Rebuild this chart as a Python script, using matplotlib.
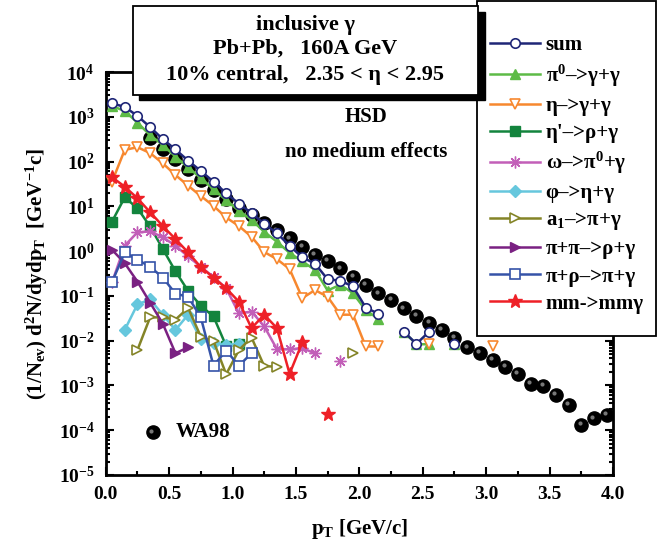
import numpy as np
import matplotlib
matplotlib.use("Agg")
import matplotlib.pyplot as plt
from matplotlib.patches import Rectangle
from matplotlib.transforms import offset_copy
from matplotlib.ticker import FixedLocator, LogLocator, FuncFormatter, NullFormatter

plt.rcParams['font.family'] = ['Liberation Serif', 'DejaVu Serif']
plt.rcParams['font.weight'] = 'bold'
plt.rcParams['axes.labelweight'] = 'bold'
plt.rcParams['mathtext.fontset'] = 'custom'
plt.rcParams['mathtext.rm'] = 'Liberation Serif:bold'
plt.rcParams['mathtext.it'] = 'Liberation Serif:bold'
plt.rcParams['mathtext.bf'] = 'Liberation Serif:bold'
plt.rcParams['mathtext.default'] = 'rm'

nan = np.nan

# HSD model, values as log10 of d2N/dydpT
pt_sum = [0.05, 0.15, 0.25, 0.35, 0.45, 0.55, 0.65, 0.75, 0.85, 0.95, 1.05, 1.15, 1.25, 1.35,
          1.45, 1.55, 1.65, 1.75, 1.85, 1.95, 2.05, 2.15, 2.25, 2.35, 2.45, 2.55, 2.65, 2.75]
log_sum = [3.30, 3.22, 3.02, 2.77, 2.50, 2.27, 2.02, 1.79, 1.55, 1.29, 1.06, 0.85, 0.61, 0.40,
           0.12, -0.14, -0.28, -0.63, -0.66, -0.79, -1.26, -1.40, nan, -1.80, -2.07, -1.80, nan, -2.07]
log_pi0 = [3.24, 3.13, 2.87, 2.59, 2.37, 2.11, 1.87, 1.63, 1.38, 1.14, 0.90, 0.70, 0.43, 0.21,
           -0.04, -0.23, -0.42, -0.88, -0.75, -0.94, -1.32, -1.51, nan, -1.80, -2.08, -2.08, nan, -2.08]

pt_eta = [0.05, 0.15, 0.25, 0.35, 0.45, 0.55, 0.65, 0.75, 0.85, 0.95, 1.05, 1.15, 1.25, 1.35, 1.45,
          1.55, 1.65, 1.75, 1.85, 1.95, 2.05, 2.15, 2.25, 2.35, 2.45, 2.55, 2.65, 2.75, 2.85, 2.95, 3.05]
log_eta = [1.55, 2.26, 2.32, 2.19, 1.96, 1.70, 1.46, 1.23, 1.01, 0.75, 0.56, 0.32, -0.02, -0.18, -0.40,
           -1.05, -0.87, -1.02, -1.42, -1.42, -2.13, -2.13, nan, nan, nan, -2.08, nan, nan, nan, nan, -2.13]

pt_etap = [0.05, 0.15, 0.25, 0.35, 0.45, 0.55, 0.65, 0.75, 0.85, 0.95, 1.05]
log_etap = [0.66, 1.20, 0.96, 0.55, 0.05, -0.45, -0.89, -1.22, -1.46, -2.12, -2.08]

pt_omega = [0.05, 0.15, 0.25, 0.35, 0.45, 0.55, 0.65, 0.75, 0.85, 0.95, 1.05, 1.15, 1.25, 1.35,
            1.45, 1.55, 1.65, 1.75, 1.85]
log_omega = [-0.70, 0.12, 0.42, 0.44, 0.31, 0.12, -0.12, -0.35, -0.58, -0.83, -1.39, -1.35, -1.68, -2.19,
             -2.19, -2.17, -2.28, nan, -2.46]

pt_phi = [0.15, 0.25, 0.35, 0.45, 0.55, 0.65, 0.75, 0.85, 0.95, 1.05]
log_phi = [-1.76, -1.19, -1.08, -1.42, -1.76, -1.42, -1.97, -2.06, -2.10, -2.07]

pt_a1 = [0.25, 0.35, 0.45, 0.55, 0.65, 0.75, 0.85, 0.95, 1.05, 1.15, 1.25, 1.35,
         1.45, 1.55, 1.65, 1.75, 1.85, 1.95]
log_a1 = [-2.21, -1.48, -1.48, -1.53, -1.27, -1.91, -2.01, -2.75, -2.21, -1.93, -2.57, -2.58,
          nan, nan, nan, nan, nan, -2.28]

pt_pipi = [0.05, 0.15, 0.25, 0.35, 0.45, 0.55, 0.65]
log_pipi = [0.03, -0.27, -0.68, -1.15, -1.62, -2.28, -2.15]

pt_pirho = [0.05, 0.15, 0.25, 0.35, 0.45, 0.55, 0.65, 0.75, 0.85, 0.95, 1.05, 1.15]
log_pirho = [-0.69, -0.03, -0.19, -0.35, -0.59, -0.95, -1.02, -1.48, -2.56, -2.22, -2.56, -2.28]

pt_mm = [0.05, 0.15, 0.25, 0.35, 0.45, 0.55, 0.65, 0.75, 0.85, 0.95, 1.05, 1.15, 1.25, 1.35,
         1.45, 1.55, 1.65, 1.75]
log_mm = [1.65, 1.44, 1.18, 0.87, 0.56, 0.27, -0.03, -0.36, -0.59, -0.83, -1.13, -1.72, -1.42, -1.72,
          -2.74, -2.04, nan, -3.64]

# WA98 data
pt_wa98 = [0.35, 0.45, 0.55, 0.65, 0.75, 0.85, 0.95, 1.05, 1.15, 1.25, 1.35, 1.45, 1.55, 1.65,
           1.75, 1.85, 1.95, 2.05, 2.15, 2.25, 2.35, 2.45, 2.55, 2.65, 2.75, 2.85, 2.95, 3.05,
           3.15, 3.25, 3.35, 3.45, 3.55, 3.65, 3.75, 3.85, 3.95]
log_wa98 = [2.52, 2.28, 2.05, 1.83, 1.59, 1.37, 1.16, 0.97, 0.80, 0.62, 0.47, 0.29, 0.10, -0.08,
            -0.22, -0.38, -0.57, -0.75, -0.94, -1.09, -1.28, -1.44, -1.60, -1.76, -1.93, -2.15, -2.27, -2.43,
            -2.58, -2.74, -2.96, -3.01, -3.21, -3.43, -3.88, -3.73, -3.66]

W, H = 668, 542
fig = plt.figure(figsize=(6.68, 5.42), dpi=100)
ax = fig.add_axes([105.7/W, 1-475/H, (613-105.7)/W, (475-72)/H])

def y(v):
    return 10**np.array(v, dtype=float)

# WA98 spheres: black ball plus a small highlight
ax.plot(pt_wa98, y(log_wa98), 'o', color='black', ms=9.5, mec='black', zorder=2)
hl = offset_copy(ax.transData, fig=fig, x=-1.5, y=1.5, units='dots')
ax.plot(pt_wa98, y(log_wa98), 'o', color='#777777', ms=3, mec='none', transform=hl, zorder=2)

lw = 1.8
h_pi0, = ax.plot(pt_sum, y(log_pi0), '-^', color='#5dbb46', ms=7.5, lw=lw, zorder=3)
h_eta, = ax.plot(pt_eta, y(log_eta), '-v', color='#f7882f', mfc='white', mew=1.2, ms=7.5, lw=lw, zorder=3)
h_etap, = ax.plot(pt_etap, y(log_etap), '-s', color='#13843d', ms=6.5, lw=lw, zorder=3)
h_omega, = ax.plot(pt_omega, y(log_omega), '-', marker=(8, 2, 0), color='#c25fb8', mew=1.0, ms=8.5, lw=lw, zorder=3)
h_phi, = ax.plot(pt_phi, y(log_phi), '-D', color='#66c7dd', ms=6.5, lw=lw, zorder=3)
h_a1, = ax.plot(pt_a1, y(log_a1), '->', color='#848427', mfc='white', mew=1.2, ms=7.5, lw=lw, zorder=3)
h_pipi, = ax.plot(pt_pipi, y(log_pipi), '->', color='#7a2182', ms=7.5, lw=lw, zorder=3)
h_pirho, = ax.plot(pt_pirho, y(log_pirho), '-s', color='#3553a8', mfc='white', mew=1.2, ms=6.5, lw=lw, zorder=3)
h_mm, = ax.plot(pt_mm, y(log_mm), '-*', color='#ee2027', ms=10, lw=lw, zorder=3)
h_sum, = ax.plot(pt_sum, y(log_sum), '-o', color='#1f2677', mfc='white', mew=1.2, ms=6.8, lw=lw, zorder=4)

ax.set_yscale('log')
ax.set_xlim(0, 4.0)
ax.set_ylim(1e-5, 1e4)

ax.xaxis.set_major_locator(FixedLocator([0, 0.5, 1.0, 1.5, 2.0, 2.5, 3.0, 3.5, 4.0]))
ax.xaxis.set_minor_locator(FixedLocator([0.25, 0.75, 1.25, 1.75, 2.25, 2.75, 3.25, 3.75]))
ax.xaxis.set_major_formatter(FuncFormatter(lambda v, p: '%.1f' % v))
ax.yaxis.set_major_locator(LogLocator(base=10, numticks=20))
ax.yaxis.set_minor_locator(LogLocator(base=10, subs=np.arange(2, 10), numticks=20))
ax.yaxis.set_minor_formatter(NullFormatter())
ax.yaxis.set_major_formatter(FuncFormatter(lambda v, p: '10$^{%d}$' % round(np.log10(v))))

ax.tick_params(which='both', direction='in', top=True, right=True, width=1.5, labelsize=14, pad=8)
ax.tick_params(which='major', length=6)
ax.tick_params(which='minor', length=3)
for s in ax.spines.values():
    s.set_linewidth(2.0)

ax.set_xlabel('p$_{T}$ [GeV/c]', fontsize=15, labelpad=10)
ax.set_ylabel('(1/N$_{ev}$) d$^{2}$N/dydp$_{T}$  [GeV$^{-1}$c]', fontsize=15, labelpad=6)

ax.text(2.05, 10**3.0, 'HSD', ha='center', va='center', fontsize=15)
ax.text(2.05, 10**2.21, 'no medium effects', ha='center', va='center', fontsize=15)
ax.plot([0.37], [10**-4.04], 'o', color='black', ms=9.5)
ax.plot([0.37], [10**-4.04], 'o', color='#777777', ms=3, mec='none', transform=hl)
ax.text(0.55, 10**-4.04, 'WA98', ha='left', va='center', fontsize=15)

# legend frame drawn separately so its size matches the original
fig.add_artist(Rectangle((477/W, 1-336/H), (656-477)/W, (336-1)/H, transform=fig.transFigure,
                         facecolor='white', edgecolor='black', lw=1.3, zorder=4.5))
handles = [h_sum, h_pi0, h_eta, h_etap, h_omega, h_phi, h_a1, h_pipi, h_pirho, h_mm]
labels = ['sum', 'π$^{0}$–>γ+γ', 'η–>γ+γ', "η'–>ρ+γ", 'ω–>π$^{0}$+γ', 'φ–>η+γ',
          'a$_{1}$–>π+γ', 'π+π–>ρ+γ', 'π+ρ–>π+γ', 'mm->mmγ']
leg = fig.legend(handles, labels, loc='upper left', bbox_to_anchor=(477/W, 1-23/H),
                 frameon=False, fontsize=15,
                 handlelength=2.4, handletextpad=0.3, borderpad=0.6, labelspacing=0.34,
                 borderaxespad=0)
leg.set_zorder(5)

# title box with drop shadow
fig.add_artist(Rectangle((139/W, 1-100/H), (485-139)/W, (100-12)/H, transform=fig.transFigure,
                         facecolor='black', edgecolor='black', zorder=6))
fig.add_artist(Rectangle((133/W, 1-95/H), (478-133)/W, (95-6)/H, transform=fig.transFigure,
                         facecolor='white', edgecolor='black', lw=1.3, zorder=7))
fig.text(305.5/W, 1-25/H, 'inclusive γ', ha='center', va='center', fontsize=16, zorder=8)
fig.text(305.5/W, 1-49/H, 'Pb+Pb,   160A GeV', ha='center', va='center', fontsize=16, zorder=8)
fig.text(305.5/W, 1-75/H, '10% central,   2.35 < η < 2.95', ha='center', va='center', fontsize=16, zorder=8)

fig.savefig('out.png', dpi=100)
